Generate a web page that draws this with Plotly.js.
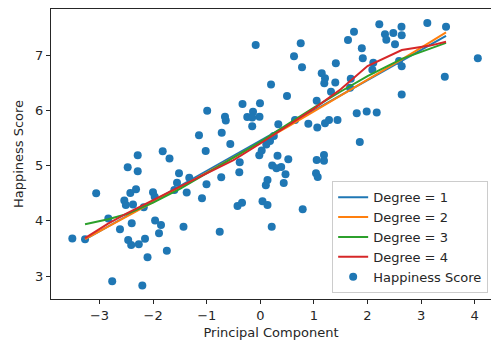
<!DOCTYPE html>
<html>
<head>
<meta charset="utf-8">
<script src="https://cdn.plot.ly/plotly-3.0.1.min.js"></script>
<style>html,body{margin:0;padding:0;background:#fff;}#chart{width:491px;height:343px;}</style>
</head>
<body>
<div id="chart"></div>
<script>
// Scatter: principal component vs happiness score
const scoreX = [-3.507,-3.270,-3.062,-2.836,-2.763,-2.618,-2.537,-2.509,-2.375,-2.474,-2.465,-2.409,-2.267,-2.151,-2.399,-2.425,-2.319,-2.287,-2.287,-2.201,-2.174,-2.104,-2.002,-1.970,-1.963,-1.853,-1.890,-1.821,-1.694,-1.744,-1.604,-1.517,-1.554,-1.433,-1.373,-1.325,-1.144,-1.088,-1.019,-1.004,-0.991,-0.757,-0.729,-0.720,-0.659,-0.644,-0.560,-0.425,-0.341,-0.384,-0.392,-0.332,-0.243,-0.136,-0.151,-0.015,-0.151,-0.086,-0.006,-0.019,0.026,0.112,0.181,0.252,0.041,0.134,0.134,0.103,0.200,0.213,0.222,0.321,0.302,0.390,0.522,0.470,0.437,0.336,0.498,0.629,0.647,0.754,0.778,0.791,0.896,1.052,1.063,1.052,1.188,1.188,1.039,1.071,1.146,1.207,1.194,1.207,1.282,1.440,1.319,1.399,1.409,1.636,1.748,1.688,1.674,1.799,1.985,2.172,1.856,1.894,1.912,2.108,2.090,2.220,2.326,2.351,2.481,2.513,2.634,2.638,2.588,2.638,2.638,3.116,3.465,3.442,4.058];
const scoreY = [3.682,3.667,4.499,4.043,2.908,3.848,4.369,4.288,4.297,4.969,3.655,3.564,3.579,3.676,3.957,4.505,4.571,5.188,4.897,2.832,4.246,3.342,4.517,4.438,4.007,3.926,3.776,5.259,5.128,3.461,4.559,4.861,4.691,3.895,4.514,4.779,5.550,4.410,5.264,4.664,5.993,3.805,4.788,5.595,5.884,5.816,5.391,4.269,4.329,5.061,4.881,6.114,5.879,5.975,5.870,5.884,5.711,7.181,6.127,5.186,5.273,5.382,5.445,5.535,4.354,4.288,4.740,4.644,6.467,3.895,5.002,5.177,4.951,4.975,5.114,4.844,4.685,5.749,6.259,6.976,5.825,7.212,6.778,4.210,5.758,6.174,5.689,5.101,5.192,5.089,4.861,4.794,6.669,6.579,6.488,5.765,5.825,5.825,6.336,6.503,6.850,7.271,7.421,6.571,6.407,5.946,5.978,5.960,5.427,7.121,6.940,6.861,6.734,7.557,7.376,7.277,7.398,7.193,7.512,7.358,6.892,6.796,6.286,7.579,7.512,6.608,6.940];

// Fitted polynomial curves, read at these x positions
const lineX   = [-3.27,-2.84,-2.5,-2.0,-1.5,-1.0,-0.5,0.0,0.5,1.0,1.5,2.0,2.64,3.17,3.465];
const degree1 = [3.664,3.899,4.085,4.358,4.627,4.910,5.184,5.451,5.724,5.997,6.270,6.544,6.893,7.183,7.344];
const degree2 = [3.670,3.893,4.071,4.335,4.602,4.872,5.144,5.420,5.698,5.980,6.264,6.551,6.923,7.234,7.409];
const degree3 = [3.940,4.030,4.120,4.330,4.580,4.860,5.140,5.430,5.740,6.050,6.340,6.620,6.930,7.120,7.220];
const degree4 = [3.690,3.950,4.130,4.380,4.620,4.860,5.100,5.400,5.720,6.030,6.380,6.800,7.090,7.170,7.240];

const seriesNames = ['Degree = 1','Degree = 2','Degree = 3','Degree = 4'];
const seriesColors = ['#1f77b4','#ff7f0e','#2ca02c','#d62728'];
const seriesY = [degree1, degree2, degree3, degree4];

const traces = [{
  x: scoreX, y: scoreY, type: 'scatter', mode: 'markers', name: 'Happiness Score',
  marker: {color: '#1f77b4', size: 8}, legendrank: 5
}];
seriesY.forEach((ys, i) => {
  traces.push({
    x: lineX, y: ys, type: 'scatter', mode: 'lines', name: seriesNames[i],
    line: {color: seriesColors[i], width: 2}, legendrank: i + 1
  });
});

const axisFont = {family: 'DejaVu Sans', size: 13, color: '#262626'};
const layout = {
  width: 491, height: 343,
  margin: {l: 51, r: 0, t: 9, b: 44, pad: 0},
  paper_bgcolor: '#fff', plot_bgcolor: '#fff',
  font: axisFont,
  showlegend: true,
  legend: {
    x: 0.639, y: 0.02, xanchor: 'left', yanchor: 'bottom',
    bgcolor: 'rgba(255,255,255,0.8)', bordercolor: '#cccccc', borderwidth: 1,
    font: {family: 'DejaVu Sans', size: 13, color: '#262626'},
    tracegroupgap: 0
  },
  xaxis: {
    range: [-3.905, 4.304], tickvals: [-3,-2,-1,0,1,2,3,4],
    showgrid: false, zeroline: false, showline: true, mirror: true,
    linecolor: '#262626', linewidth: 1, ticks: 'outside', ticklen: 4, tickcolor: '#262626',
    tickfont: axisFont,
    title: {text: 'Principal Component', font: axisFont, standoff: 6}
  },
  yaxis: {
    range: [2.588, 7.832], tickvals: [3,4,5,6,7],
    showgrid: false, zeroline: false, showline: true, mirror: true,
    linecolor: '#262626', linewidth: 1, ticks: 'outside', ticklen: 4, tickcolor: '#262626',
    tickfont: axisFont,
    title: {text: 'Happiness Score', font: axisFont, standoff: 8}
  }
};
Plotly.newPlot('chart', traces, layout, {displayModeBar: false, staticPlot: true});
</script>
</body>
</html>
